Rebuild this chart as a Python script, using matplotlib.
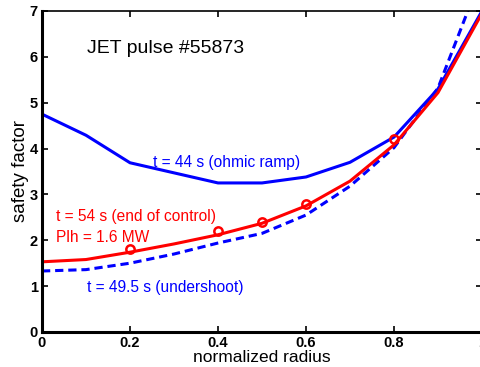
import matplotlib
matplotlib.use("Agg")
import matplotlib.pyplot as plt

plt.rcParams['font.family'] = ['Liberation Sans', 'DejaVu Sans']

# t = 44 s (ohmic ramp)
r_ohmic = [0, 0.1, 0.2, 0.4, 0.5, 0.6, 0.7, 0.8, 0.9, 1.0]
q_ohmic = [4.75, 4.29, 3.69, 3.25, 3.25, 3.38, 3.70, 4.25, 5.30, 7.0]

# t = 54 s (end of control)
r_ctrl = [0, 0.1, 0.2, 0.3, 0.4, 0.5, 0.6, 0.7, 0.8, 0.9, 1.0]
q_ctrl = [1.53, 1.58, 1.74, 1.92, 2.12, 2.37, 2.75, 3.29, 4.08, 5.22, 6.95]

# t = 49.5 s (undershoot)
r_under = [0, 0.1, 0.2, 0.3, 0.4, 0.5, 0.6, 0.7, 0.8, 0.9, 1.0]
q_under = [1.33, 1.36, 1.50, 1.70, 1.94, 2.15, 2.55, 3.18, 4.02, 5.32, 7.8]

# target points
r_target = [0.2, 0.4, 0.5, 0.6, 0.8]
q_target = [1.80, 2.20, 2.40, 2.80, 4.20]

fig = plt.figure(figsize=(4.81, 3.67), dpi=100)
ax = fig.add_axes([0.0873, 0.0954, 0.9148, 0.8747])

ax.plot(r_ohmic, q_ohmic, color='#0000ff', lw=2.2)
ax.plot(r_under, q_under, color='#0000ff', lw=2.2, ls=(0, (2.7, 1.6)))
ax.plot(r_ctrl, q_ctrl, color='#ff0000', lw=2.2)
ax.plot(r_target, q_target, 'o', color='#ff0000', mfc='none', ms=6, mew=1.8)

ax.text(0.102, 6.19, 'JET pulse #55873', fontsize=14, va='center')
ax.text(0.252, 3.69, 't = 44 s (ohmic ramp)', fontsize=11.2, color='#0000ff', va='center')
ax.text(0.032, 2.51, 't = 54 s (end of control)', fontsize=11.2, color='#ff0000', va='center')
ax.text(0.032, 2.07, 'Plh = 1.6 MW', fontsize=11.2, color='#ff0000', va='center')
ax.text(0.102, 0.98, 't = 49.5 s (undershoot)', fontsize=11.2, color='#0000ff', va='center')

ax.set_xlim(0, 1)
ax.set_ylim(0, 7)
ax.set_xticks([0, 0.2, 0.4, 0.6, 0.8, 1.0])
ax.set_xticklabels(['0', '0.2', '0.4', '0.6', '0.8', '1'])
ax.set_yticks(range(8))
ax.tick_params(direction='in', top=True, right=True, length=4, width=1.2,
               labelsize=10.5, pad=3)
for lab in ax.get_xticklabels() + ax.get_yticklabels():
    lab.set_fontweight('bold')
ax.spines['left'].set_linewidth(2.2)
ax.spines['bottom'].set_linewidth(2.2)
ax.spines['top'].set_linewidth(1.2)
ax.spines['right'].set_linewidth(1.2)

ax.set_xlabel('normalized radius', fontsize=12.5, labelpad=0)
ax.set_ylabel('safety factor', fontsize=13.5, labelpad=0.5)

fig.savefig('out.png', dpi=100)
